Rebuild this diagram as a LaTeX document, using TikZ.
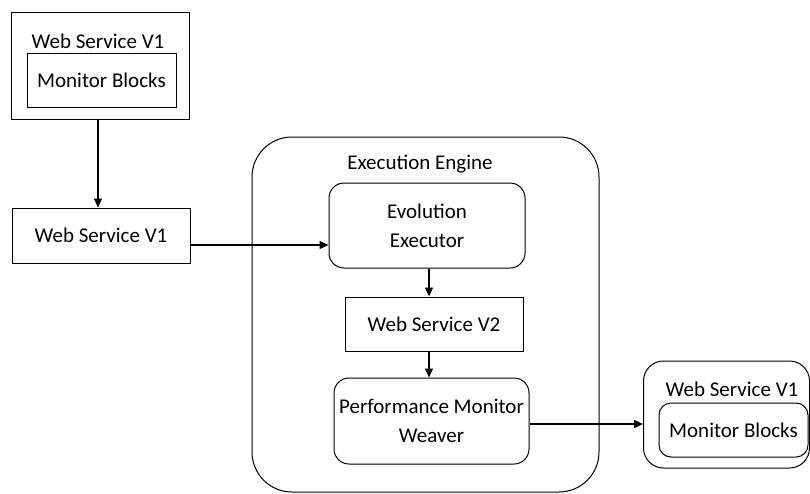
\documentclass[tikz,border=0pt]{standalone}
\usepackage{fontspec}
\setmainfont{Carlito}
\usetikzlibrary{arrows.meta}
\tikzset{
  box/.style={draw, line width=1pt, inner sep=0pt},
  rbox/.style={box, rounded corners=#1},
  lbl/.style={draw=none, inner sep=0pt},
  flow/.style={line width=1.1pt, -{Triangle[length=9pt,width=8pt]}}
}
\begin{document}
\begin{tikzpicture}[x=1pt, y=-1pt, font=\fontsize{21}{29}\selectfont]
    \useasboundingbox (0,0) rectangle (810,493);
    % left column
    \node(ws1top) at (100,65.5) [box, minimum width=178pt, minimum height=107pt] {};
    \node(ws1toplbl) at (98,41) [lbl] {Web Service V1};
    \node(mb1) at (101.5,80) [box, minimum width=149pt, minimum height=54pt] {Monitor Blocks};
    \node(ws1mid) at (101,235.5) [box, minimum width=178pt, minimum height=55pt] {Web Service V1};
    % execution engine
    \node(engine) at (425.5,314.5) [rbox=40pt, minimum width=347pt, minimum height=355pt] {};
    \node(enginelbl) at (420,164) [lbl] {Execution Engine};
    \node(evo) at (427,225.5) [rbox=15pt, minimum width=196pt, minimum height=85pt, align=center] {Evolution\\Executor};
    \node(ws2) at (434,324) [box, minimum width=178pt, minimum height=54pt] {Web Service V2};
    \node(pmw) at (431.5,421) [rbox=15pt, minimum width=195pt, minimum height=86pt, align=center] {Performance Monitor\\Weaver};
    % right
    \node(ws1right) at (726.5,414.5) [rbox=20pt, minimum width=166pt, minimum height=107pt] {};
    \node(ws1rightlbl) at (732,389) [lbl] {Web Service V1};
    \node(mb2) at (733.5,430) [rbox=12pt, minimum width=149pt, minimum height=54pt] {Monitor Blocks};
    % arrows
    \draw[flow] ([xshift=-2pt]ws1top.south) -- ([xshift=-2pt]ws1top.south |- ws1mid.north);
    \draw[flow] ([yshift=-9.5pt]ws1mid.east) -- ([yshift=-9.5pt]ws1mid.east -| evo.west);
    \draw[flow] ([xshift=2pt]evo.south) -- ([xshift=2pt]evo.south |- ws2.north);
    \draw[flow] ([xshift=-2.5pt]pmw.north |- ws2.south) -- ([xshift=-2.5pt]pmw.north);
    \draw[flow] ([yshift=-3pt]pmw.east) -- ([yshift=-3pt]pmw.east -| ws1right.west);
\end{tikzpicture}
\end{document}
